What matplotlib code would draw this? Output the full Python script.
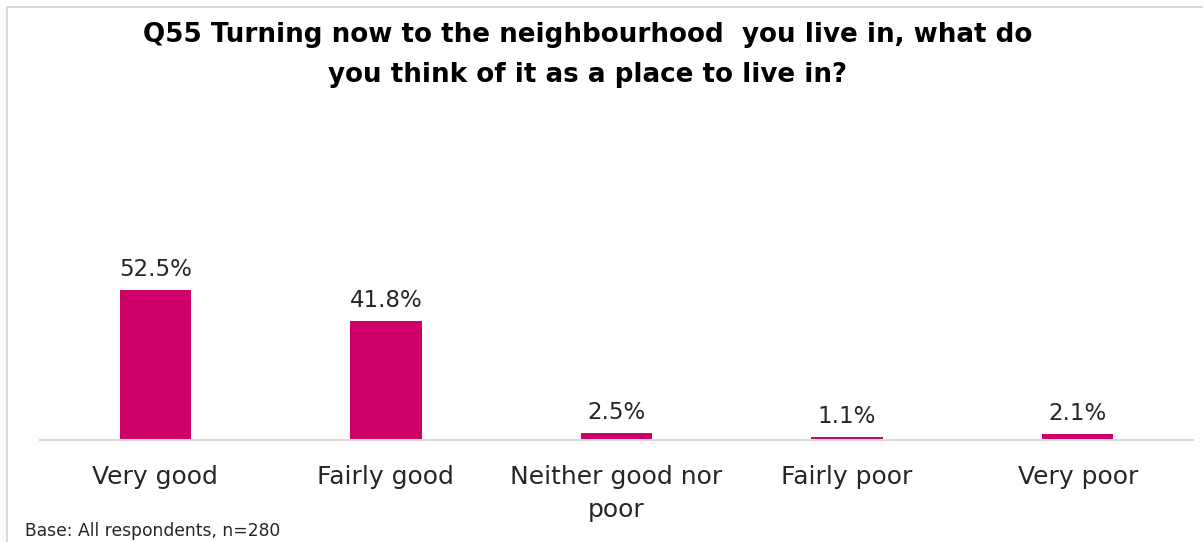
import matplotlib
matplotlib.use("Agg")
import matplotlib.pyplot as plt
from matplotlib.patches import Rectangle

# Survey responses
categories = ["Very good", "Fairly good", "Neither good nor\npoor", "Fairly poor", "Very poor"]
percentages = [52.5, 41.8, 2.5, 1.1, 2.1]
title_text = ("Q55 Turning now to the neighbourhood  you live in, what do\n"
              "you think of it as a place to live in?")
base_note = "Base: All respondents, n=280"

BAR_COLOR = "#CC0066"
GRID_GRAY = "#d9d9d9"
TEXT_COLOR = "#262626"

plt.rcParams["font.family"] = ["DejaVu Sans"]

W, H = 1203, 542
fig = plt.figure(figsize=(W / 100, H / 100), dpi=100)

# Light frame around the chart area
frame = Rectangle((7 / W, -0.1), 1.2, 1 - 7 / H + 0.1, transform=fig.transFigure,
                  fill=False, edgecolor=GRID_GRAY, linewidth=1.5)
fig.patches.append(frame)

left, right = 40 / W, 1193 / W
bottom, top = 1 - 440 / H, 1 - 130 / H
ax = fig.add_axes([left, bottom, right - left, top - bottom])

x = list(range(len(categories)))
bars = ax.bar(x, percentages, width=0.31, color=BAR_COLOR)

for rect, val in zip(bars, percentages):
    ax.annotate(f"{val:.1f}%", (rect.get_x() + rect.get_width() / 2, rect.get_height()),
                xytext=(0, 6.5), textcoords="offset points", ha="center", va="bottom",
                fontsize=16.5, color=TEXT_COLOR)

ax.set_xlim(-0.5, len(categories) - 0.5)
ax.set_ylim(0, 108.5)
ax.set_xticks(x)
ax.set_xticklabels(categories, fontsize=18, color=TEXT_COLOR, linespacing=1.5)
ax.tick_params(axis="x", length=0, pad=18)
ax.set_yticks([])
for side in ("top", "right", "left"):
    ax.spines[side].set_visible(False)
ax.spines["bottom"].set_color(GRID_GRAY)
ax.spines["bottom"].set_linewidth(1.5)

fig.text(588 / W, 1 - 55 / H, title_text, ha="center", va="center",
         fontsize=18.8, fontweight="bold", color="black", linespacing=1.65)

fig.text(25 / W, 1 - 531 / H, base_note, ha="left", va="center",
         fontsize=12.3, color=TEXT_COLOR)

fig.savefig("out.png", dpi=100, facecolor="white")
